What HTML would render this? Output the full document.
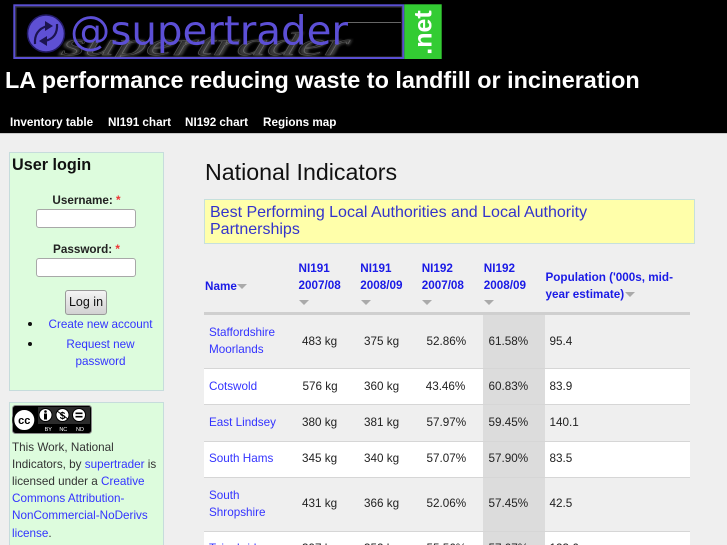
<!DOCTYPE html>
<html><head><meta charset="utf-8">
<style>
*{margin:0;padding:0;box-sizing:border-box}
html,body{width:727px;height:545px;overflow:hidden;background:#efefef;font-family:"Liberation Sans",Arial,sans-serif}
#wrap{position:relative;width:727px;height:545px;overflow:hidden;background:#efefef}
.a{position:absolute;white-space:nowrap}
.nav{font-weight:bold;font-size:11.7px;color:#fff;line-height:14px;top:116px}
.lnk{color:#3333ff}
.th{color:#1a1ae6;font-weight:bold;font-size:11.7px;line-height:17px}
.td{color:#222;font-size:11.7px;line-height:17px}
.tri{position:absolute;width:0;height:0;border-left:5px solid transparent;border-right:5px solid transparent;border-top:5px solid #aaa}
.row{position:absolute;left:204px;width:486px}
.sep{position:absolute;left:204px;width:486px;height:1px;background:#d6d6d6}
</style></head><body>
<div id="wrap">

<!-- header -->
<div class="a" style="left:0;top:0;width:727px;height:133px;background:#000"></div>
<div class="a" style="left:0;top:133px;width:727px;height:1px;background:#c8c8c8"></div>

<svg class="a" style="left:0;top:0" width="450" height="62" viewBox="0 0 450 62">
  <defs>
    <filter id="bl"><feGaussianBlur stdDeviation="1.4"/></filter>
    <clipPath id="cl"><rect x="15" y="6" width="388" height="51"/></clipPath>
  </defs>
  <rect x="16" y="7" width="386" height="50" fill="none" stroke="#3a3a3a" stroke-width="1"/>
  <line x1="345" y1="22.5" x2="401" y2="22.5" stroke="#666" stroke-width="1"/>
  <g clip-path="url(#cl)">
    <text x="72" y="56" font-family="Liberation Serif" font-style="italic" font-weight="bold" font-size="34" fill="#6a6a6a" filter="url(#bl)" opacity="0.55" transform="skewX(-14)" textLength="290" lengthAdjust="spacingAndGlyphs">supertrader</text>
    <text x="74" y="55" font-family="Liberation Serif" font-style="italic" font-size="32" fill="none" stroke="#bdbdbd" stroke-width="0.5" opacity="0.35" transform="skewX(-14)" textLength="286" lengthAdjust="spacingAndGlyphs">supertrader</text>
  </g>
  <circle cx="46" cy="33.5" r="18.5" fill="#5e50d4" stroke="#221a66" stroke-width="1.5"/>
  <path d="M35 44 Q34 30 47 26" fill="none" stroke="#1c1450" stroke-width="2.2"/>
  <path d="M45 21 L53 26 L45 31 Z" fill="#1c1450"/>
  <path d="M57 24 Q58 38 45 41" fill="none" stroke="#1c1450" stroke-width="2.2"/>
  <path d="M47 36 L39 41 L47 46 Z" fill="#1c1450"/>
  <text x="70" y="44.5" font-family="DejaVu Sans" font-size="40" fill="#5c4fd6" textLength="278" lengthAdjust="spacingAndGlyphs">@supertrader</text>
  <rect x="14.3" y="5.3" width="389" height="52.7" fill="none" stroke="#5a4fd2" stroke-width="2"/>
  <rect x="404.3" y="4.3" width="37.4" height="54.7" fill="#33cc33"/>
  <text transform="translate(431.5,32.5) rotate(-90)" x="0" y="0" text-anchor="middle" font-family="Liberation Sans" font-weight="bold" font-size="25" fill="#fff">.net</text>
</svg>

<div class="a" style="left:5px;top:66px;font-size:23.4px;line-height:28px;font-weight:bold;color:#fff">LA performance reducing waste to landfill or incineration</div>

<div class="a nav" style="left:10px">Inventory table</div>
<div class="a nav" style="left:108px">NI191 chart</div>
<div class="a nav" style="left:185px">NI192 chart</div>
<div class="a nav" style="left:263px">Regions map</div>

<!-- sidebar login -->
<div class="a" style="left:9px;top:152px;width:155px;height:239px;background:#ddfcdd;border:1px solid #c6dcdc"></div>
<div class="a" style="left:12px;top:154.5px;font-size:16.2px;line-height:20px;font-weight:bold;color:#111">User login</div>
<div class="a" style="left:9px;top:192px;width:155px;text-align:center;font-size:11.7px;line-height:17px;font-weight:bold;color:#222">Username: <span style="color:#e33">*</span></div>
<div class="a" style="left:36px;top:209px;width:100px;height:19px;background:#fff;border:1px solid #a8a8a8;border-radius:3px"></div>
<div class="a" style="left:9px;top:240.5px;width:155px;text-align:center;font-size:11.7px;line-height:17px;font-weight:bold;color:#222">Password: <span style="color:#e33">*</span></div>
<div class="a" style="left:36px;top:258px;width:100px;height:19px;background:#fff;border:1px solid #a8a8a8;border-radius:3px"></div>
<div class="a" style="left:65px;top:290px;width:42px;height:25px;border:1px solid #999;border-radius:3px;background:linear-gradient(#f4f4f4,#d2d2d2);text-align:center;font-size:12.5px;line-height:23px;color:#111">Log in</div>
<div class="a" style="left:27.5px;top:322px;width:4px;height:4px;border-radius:2px;background:#111"></div>
<div class="a" style="left:27.5px;top:342px;width:4px;height:4px;border-radius:2px;background:#111"></div>
<div class="a lnk" style="left:38px;top:316px;width:125px;text-align:center;font-size:11.7px;line-height:17px">Create new account</div>
<div class="a lnk" style="left:38px;top:336px;width:125px;text-align:center;font-size:11.7px;line-height:17px">Request new<br>password</div>

<!-- sidebar license -->
<div class="a" style="left:9px;top:402px;width:155px;height:160px;background:#ddfcdd;border:1px solid #c6dcdc"></div>
<svg class="a" style="left:12px;top:405px" width="80" height="29" viewBox="0 0 80 29">
  <rect x="0.5" y="0.5" width="79" height="28" rx="3" fill="#000" stroke="#8a8a8a"/>
  <rect x="26" y="2" width="52" height="17" fill="#555" opacity="0.5"/>
  <circle cx="12.3" cy="15" r="11" fill="#fff" stroke="#000" stroke-width="2"/>
  <text x="12.3" y="19" text-anchor="middle" font-family="Liberation Sans" font-weight="bold" font-size="11" fill="#000">cc</text>
  <circle cx="33.5" cy="10" r="6.5" fill="#fff" stroke="#000" stroke-width="1"/>
  <circle cx="33.5" cy="6.5" r="1.3" fill="#000"/>
  <rect x="32" y="8.5" width="3" height="6" fill="#000"/>
  <circle cx="50.5" cy="10" r="6.5" fill="#fff" stroke="#000" stroke-width="1"/>
  <text x="50.5" y="14" text-anchor="middle" font-family="Liberation Sans" font-weight="bold" font-size="10" fill="#000">$</text>
  <line x1="45" y1="6" x2="56" y2="14" stroke="#000" stroke-width="1"/>
  <circle cx="67" cy="10" r="6.5" fill="#fff" stroke="#000" stroke-width="1"/>
  <rect x="63.5" y="7.5" width="7" height="1.6" fill="#000"/>
  <rect x="63.5" y="10.9" width="7" height="1.6" fill="#000"/>
  <text x="36.3" y="26" text-anchor="middle" font-family="Liberation Sans" font-size="5.5" fill="#fff">BY</text>
  <text x="51.3" y="26" text-anchor="middle" font-family="Liberation Sans" font-size="5.5" fill="#fff">NC</text>
  <text x="68" y="26" text-anchor="middle" font-family="Liberation Sans" font-size="5.5" fill="#fff">ND</text>
</svg>
<div class="a" style="left:12px;top:438.5px;font-size:11.7px;line-height:17.2px;color:#333">This Work, National<br>Indicators, by <span class="lnk">supertrader</span> is<br>licensed under a <span class="lnk">Creative</span><br><span class="lnk">Commons Attribution-</span><br><span class="lnk">NonCommercial-NoDerivs</span><br><span class="lnk">license</span>.</div>

<!-- main -->
<div class="a" style="left:205px;top:158px;font-size:23.2px;line-height:28px;color:#111">National Indicators</div>
<div class="a" style="left:204px;top:199px;width:491px;height:45px;background:#ffffaa;border:1px solid #c6e0dc"></div>
<div class="a" style="left:210px;top:204px;font-size:16px;line-height:17px;color:#3333cc">Best Performing Local Authorities and Local Authority<br>Partnerships</div>

<!-- table header -->
<div class="a th" style="left:205px;top:277.5px">Name</div>
<div class="tri" style="left:237px;top:284px"></div>
<div class="a th" style="left:298.5px;top:260px">NI191<br>2007/08</div>
<div class="tri" style="left:299px;top:300px"></div>
<div class="a th" style="left:360.3px;top:260px">NI191<br>2008/09</div>
<div class="tri" style="left:360.5px;top:300px"></div>
<div class="a th" style="left:421.7px;top:260px">NI192<br>2007/08</div>
<div class="tri" style="left:422px;top:300px"></div>
<div class="a th" style="left:483.8px;top:260px">NI192<br>2008/09</div>
<div class="tri" style="left:484px;top:300px"></div>
<div class="a th" style="left:545.5px;top:268.5px">Population ('000s, mid-<br>year estimate)</div>
<div class="tri" style="left:625px;top:292px"></div>
<div class="a" style="left:204px;top:312px;width:486px;height:3px;background:#cfcfcf"></div>

<!-- rows -->
<div class="row" style="top:315px;height:53px;background:#efefef"></div>
<div class="row" style="top:368px;height:36px;background:#fff"></div>
<div class="row" style="top:404px;height:37px;background:#efefef"></div>
<div class="row" style="top:441px;height:36px;background:#fff"></div>
<div class="row" style="top:477px;height:54px;background:#efefef"></div>
<div class="row" style="top:531px;height:14px;background:#fff"></div>
<div class="a" style="left:483px;top:315px;width:62px;height:230px;background:#dcdcdc"></div>
<div class="sep" style="top:368px"></div>
<div class="sep" style="top:404px"></div>
<div class="sep" style="top:441px"></div>
<div class="sep" style="top:477px"></div>
<div class="sep" style="top:531px"></div>

<!-- row 1 -->
<div class="a td" style="left:209px;top:324px;color:#3333ff">Staffordshire<br>Moorlands</div>
<div class="a td" style="left:302px;top:332.5px">483 kg</div>
<div class="a td" style="left:364px;top:332.5px">375 kg</div>
<div class="a td" style="left:426.5px;top:332.5px">52.86%</div>
<div class="a td" style="left:488.5px;top:332.5px">61.58%</div>
<div class="a td" style="left:549.5px;top:332.5px">95.4</div>
<!-- row 2 -->
<div class="a td" style="left:209px;top:377.5px;color:#3333ff">Cotswold</div>
<div class="a td" style="left:302.5px;top:377.5px">576 kg</div>
<div class="a td" style="left:364px;top:377.5px">360 kg</div>
<div class="a td" style="left:425.7px;top:377.5px">43.46%</div>
<div class="a td" style="left:488.5px;top:377.5px">60.83%</div>
<div class="a td" style="left:549.5px;top:377.5px">83.9</div>
<!-- row 3 -->
<div class="a td" style="left:209px;top:414px;color:#3333ff">East Lindsey</div>
<div class="a td" style="left:302px;top:414px">380 kg</div>
<div class="a td" style="left:364px;top:414px">381 kg</div>
<div class="a td" style="left:426.5px;top:414px">57.97%</div>
<div class="a td" style="left:488.5px;top:414px">59.45%</div>
<div class="a td" style="left:549.5px;top:414px">140.1</div>
<!-- row 4 -->
<div class="a td" style="left:209px;top:450px;color:#3333ff">South Hams</div>
<div class="a td" style="left:302px;top:450px">345 kg</div>
<div class="a td" style="left:364px;top:450px">340 kg</div>
<div class="a td" style="left:426.5px;top:450px">57.07%</div>
<div class="a td" style="left:488.5px;top:450px">57.90%</div>
<div class="a td" style="left:549.5px;top:450px">83.5</div>
<!-- row 5 -->
<div class="a td" style="left:209px;top:486.5px;color:#3333ff">South<br>Shropshire</div>
<div class="a td" style="left:302px;top:495px">431 kg</div>
<div class="a td" style="left:364px;top:495px">366 kg</div>
<div class="a td" style="left:426.5px;top:495px">52.06%</div>
<div class="a td" style="left:488.5px;top:495px">57.45%</div>
<div class="a td" style="left:549.5px;top:495px">42.5</div>
<!-- row 6 (partially visible) -->
<div class="a td" style="left:209px;top:540px;color:#3333ff">Teignbridge</div>
<div class="a td" style="left:302px;top:540px">397 kg</div>
<div class="a td" style="left:364px;top:540px">352 kg</div>
<div class="a td" style="left:426.5px;top:540px">55.56%</div>
<div class="a td" style="left:488.5px;top:540px">57.07%</div>
<div class="a td" style="left:549.5px;top:540px">123.6</div>

</div>
</body></html>
